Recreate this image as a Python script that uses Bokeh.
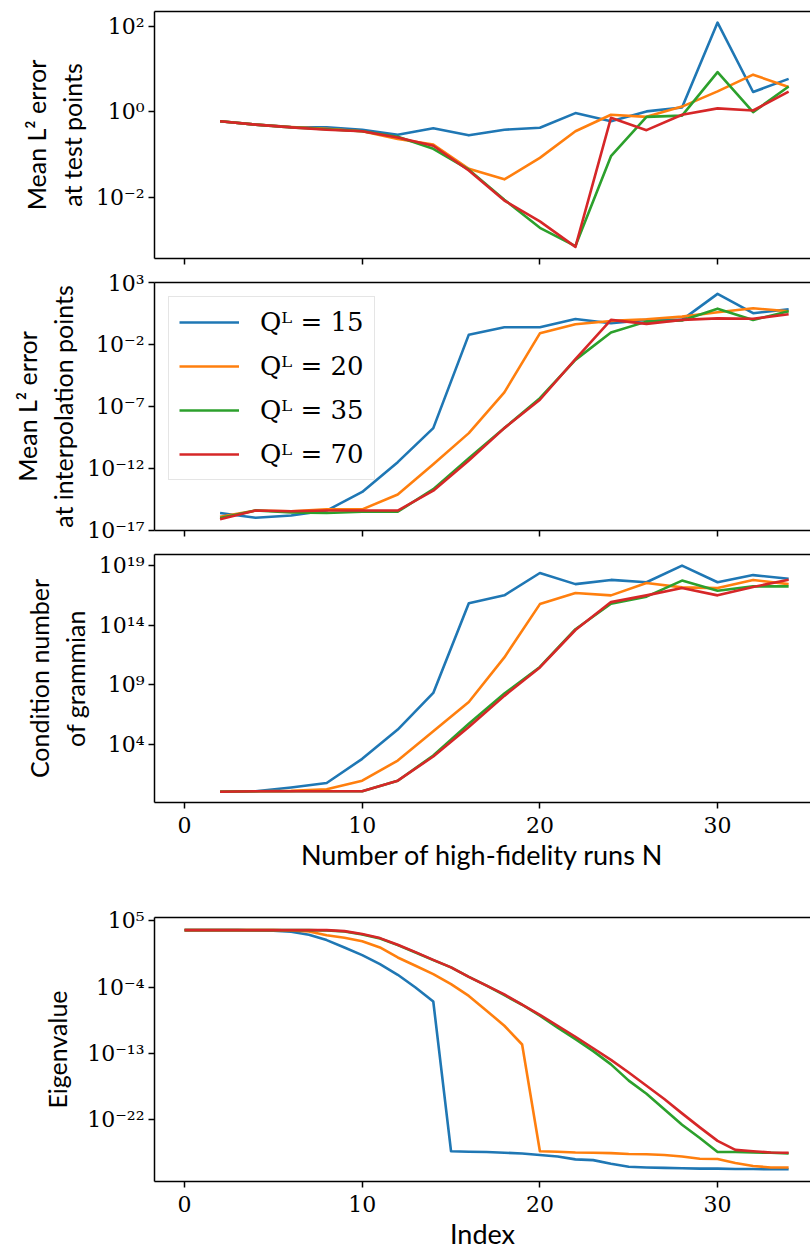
import math
from bokeh.plotting import figure
from bokeh.models import (Range1d, FixedTicker, CustomJSTickFormatter,
                          Legend, LegendItem, LinearAxis)
from bokeh.layouts import column
from bokeh.embed import file_html
from bokeh.resources import INLINE

# ---------------- data ----------------
n_runs = [2, 4, 6, 8, 10, 12, 14, 16, 18, 20, 22, 24, 26, 28, 30, 32, 34]
eig_index = list(range(35))
series_labels = ["Q\u1d38 = 15", "Q\u1d38 = 20", "Q\u1d38 = 35", "Q\u1d38 = 70"]
colors = ["#1f77b4", "#ff7f0e", "#2ca02c", "#d62728"]

test_err_15 = [0.60, 0.50, 0.44, 0.43, 0.38, 0.29, 0.41, 0.28, 0.38, 0.42, 0.93, 0.60, 1.02, 1.26, 123.0, 2.9, 5.9]
test_err_20 = [0.60, 0.50, 0.44, 0.40, 0.35, 0.23, 0.17, 0.046, 0.026, 0.083, 0.35, 0.85, 0.76, 1.32, 3.0, 7.4, 3.8]
test_err_35 = [0.60, 0.50, 0.43, 0.39, 0.35, 0.26, 0.135, 0.044, 0.0087, 0.0019, 0.00071, 0.091, 0.76, 0.81, 8.5, 0.98, 3.9]
test_err_70 = [0.60, 0.50, 0.43, 0.38, 0.35, 0.25, 0.16, 0.042, 0.0083, 0.0027, 0.00068, 0.72, 0.37, 0.85, 1.2, 1.07, 2.95]

interp_err_15 = [2.5e-16, 1.05e-16, 1.6e-16, 4.0e-16, 1.26e-14, 3.2e-12, 1.8e-9, 0.063, 0.25, 0.25, 1.17, 0.52, 0.98, 0.98, 123.0, 3.4, 7.1]
interp_err_20 = [1.26e-16, 4.0e-16, 3.5e-16, 5.0e-16, 5.0e-16, 7.9e-15, 2.2e-12, 7.1e-10, 1.4e-6, 0.081, 0.44, 0.81, 1.1, 1.8, 4.0, 8.5, 4.9]
interp_err_35 = [1.0e-16, 4.0e-16, 2.8e-16, 2.5e-16, 3.2e-16, 3.2e-16, 2.1e-14, 6.8e-12, 1.8e-9, 4.7e-7, 5.8e-4, 0.093, 0.71, 0.87, 7.9, 0.98, 4.9]
interp_err_70 = [7.9e-17, 4.0e-16, 3.5e-16, 4.0e-16, 4.0e-16, 4.0e-16, 1.6e-14, 4.4e-12, 1.8e-9, 3.5e-7, 6.6e-4, 0.98, 0.47, 0.98, 1.3, 1.2, 2.8]

cond_15 = [1.1, 1.2, 2.5, 5.9, 6.3e2, 1.8e5, 2.1e8, 7.1e15, 3.2e16, 2.4e18, 2.8e17, 6.3e17, 4.0e17, 1.0e19, 4.0e17, 1.6e18, 7.9e17]
cond_20 = [1.1, 1.2, 1.3, 1.8, 9.3, 4.5e2, 1.3e5, 3.7e7, 2.0e11, 5.9e15, 5.0e16, 3.2e16, 3.5e17, 1.5e17, 1.3e17, 6.3e17, 2.8e17]
cond_35 = [1.1, 1.2, 1.2, 1.2, 1.2, 9.3, 1.2e3, 5.5e5, 1.9e8, 3.2e10, 4.6e13, 6.3e15, 2.5e16, 5.5e17, 7.9e16, 1.8e17, 1.8e17]
cond_70 = [1.1, 1.2, 1.2, 1.2, 1.2, 9.3, 1.0e3, 2.9e5, 1.2e8, 2.9e10, 4.0e13, 8.7e15, 3.2e16, 1.3e17, 3.2e16, 1.6e17, 6.6e17]

eig_15 = [5.4e3, 5.4e3, 5.4e3, 5.4e3, 4.9e3, 4.4e3, 3.2e3, 1.3e3, 2.4e2, 24.0, 2.2, 0.13, 4.7e-3, 8.9e-5, 1.1e-6,
          5.0e-27, 4.4e-27, 4.0e-27, 3.2e-27, 2.5e-27, 1.6e-27, 1.0e-27, 4.0e-28, 3.2e-28, 1.0e-28, 4.0e-29,
          3.2e-29, 2.8e-29, 2.5e-29, 2.2e-29, 2.2e-29, 2.0e-29, 2.0e-29, 1.8e-29, 1.8e-29]
eig_20 = [5.4e3, 5.4e3, 5.4e3, 5.4e3, 5.4e3, 5.4e3, 4.9e3, 3.5e3, 1.1e3, 5.0e2, 1.7e2, 24.0, 1.05, 0.079, 5.8e-3,
          2.5e-4, 6.3e-6, 6.3e-8, 5.6e-10, 1.6e-12, 5.0e-27, 4.4e-27, 3.5e-27, 3.2e-27, 2.8e-27, 2.2e-27,
          2.0e-27, 1.6e-27, 1.0e-27, 5.0e-28, 4.5e-28, 1.3e-28, 5.0e-29, 3.2e-29, 3.2e-29]
eig_35 = [5.4e3, 5.4e3, 5.4e3, 5.4e3, 5.4e3, 5.4e3, 5.4e3, 5.4e3, 4.9e3, 3.5e3, 1.4e3, 4.0e2, 50.0, 5.0, 0.46,
          0.047, 2.5e-3, 1.6e-4, 7.9e-6, 4.0e-7, 1.3e-8, 3.2e-10, 8.7e-12, 2.0e-13, 3.2e-15, 2.0e-17,
          3.2e-19, 2.5e-21, 2.0e-23, 3.2e-25, 4.0e-27, 4.0e-27, 3.5e-27, 3.2e-27, 2.5e-27]
eig_70 = [5.4e3, 5.4e3, 5.4e3, 5.4e3, 5.4e3, 5.4e3, 5.4e3, 5.4e3, 5.4e3, 4.0e3, 1.6e3, 4.5e2, 55.0, 5.6, 0.5,
          0.047, 2.5e-3, 1.6e-4, 1.0e-5, 4.0e-7, 1.7e-8, 5.6e-10, 1.8e-11, 5.0e-13, 1.3e-14, 2.5e-16,
          4.0e-18, 6.3e-20, 7.1e-22, 8.9e-24, 1.3e-25, 7.9e-27, 5.0e-27, 3.5e-27, 3.2e-27]

x_ticks = [0, 10, 20, 30]
test_ticks = [1e-2, 1e0, 1e2]
interp_ticks = [1e-17, 1e-12, 1e-7, 1e-2, 1e3]
cond_ticks = [1e4, 1e9, 1e14, 1e19]
eig_ticks = [1e-22, 1e-13, 1e-4, 1e5]

# ---------------- styling ----------------
SANS = "Lato"
SERIF = "DejaVu Serif"
TICK_SIZE = "22px"
XLABEL_SIZE = "27px"
YLABEL_SIZE = "25px"
LW = 2.6

xr = Range1d(-1.69, 35.23)

sup_fmt = CustomJSTickFormatter(code="""
const sup = {'0':'\u2070','1':'\u00b9','2':'\u00b2','3':'\u00b3','4':'\u2074','5':'\u2075',
             '6':'\u2076','7':'\u2077','8':'\u2078','9':'\u2079','-':'\u207b'};
const e = Math.round(Math.log10(tick));
return '10' + String(e).split('').map(c => sup[c]).join('');
""")


def make_fig(height, ylo, yhi, yticks, top, bottom, show_xlabels, ylabel, ylabel_standoff=6):
    p = figure(width=810, height=height, x_range=xr,
               y_range=Range1d(10 ** ylo, 10 ** yhi), y_axis_type="log",
               output_backend="svg", toolbar_location=None,
               min_border_left=154, min_border_right=0,
               min_border_top=top, min_border_bottom=bottom)
    p.outline_line_color = None
    p.xgrid.visible = False
    p.ygrid.visible = False
    xa = p.below[0]
    ya = p.left[0]
    for ax in (xa, ya):
        ax.axis_line_width = 1.5
        ax.axis_line_color = "black"
        ax.major_tick_line_width = 1.5
        ax.major_tick_line_color = "black"
        ax.major_tick_out = 6
        ax.major_tick_in = 0
        ax.minor_tick_line_color = None
        ax.major_label_text_font = SERIF
        ax.major_label_text_font_size = TICK_SIZE
        ax.major_label_text_color = "black"
    xa.ticker = FixedTicker(ticks=x_ticks)
    ya.ticker = FixedTicker(ticks=yticks)
    ya.formatter = sup_fmt
    ya.major_label_standoff = 4
    ya.axis_label = ylabel
    ya.axis_label_text_font = SANS
    ya.axis_label_text_font_size = YLABEL_SIZE
    ya.axis_label_text_font_style = "normal"
    ya.axis_label_text_color = "black"
    ya.axis_label_standoff = ylabel_standoff
    xa.major_label_standoff = 8
    if not show_xlabels:
        xa.major_label_overrides = {t: "" for t in x_ticks}
        xa.major_label_text_font_size = "0px"
        xa.major_label_standoff = 0
    top_axis = LinearAxis(axis_line_width=1.5, axis_line_color="black",
                          major_tick_line_color=None, minor_tick_line_color=None,
                          major_label_text_font_size="0px", major_label_standoff=0,
                          ticker=FixedTicker(ticks=[]))
    p.add_layout(top_axis, "above")
    return p, xa


def style_xlabel(xa, text):
    xa.axis_label = text
    xa.axis_label_text_font = SANS
    xa.axis_label_text_font_size = XLABEL_SIZE
    xa.axis_label_text_font_style = "normal"
    xa.axis_label_text_color = "black"
    xa.axis_label_standoff = 2


# panel 1
p1, _ = make_fig(270, -3.44, 2.35, test_ticks, 11, 12, False,
                 "Mean L\u00b2 error\nat test points")
for ys, c in zip([test_err_15, test_err_20, test_err_35, test_err_70], colors):
    p1.line(n_runs, ys, line_color=c, line_width=LW, line_join="round")

# panel 2
p2, _ = make_fig(272, -17.01, 3.01, interp_ticks, 12, 12, False,
                 "Mean L\u00b2 error\nat interpolation points")
rs = []
for ys, c in zip([interp_err_15, interp_err_20, interp_err_35, interp_err_70], colors):
    rs.append(p2.line(n_runs, ys, line_color=c, line_width=LW, line_join="round"))
legend = Legend(items=[LegendItem(label=l, renderers=[r]) for l, r in zip(series_labels, rs)],
                location="top_left", margin=14, padding=10, spacing=14,
                glyph_width=60, glyph_height=30, label_height=30, label_standoff=21,
                label_text_font=SERIF, label_text_font_size="26px",
                label_text_color="black",
                border_line_color="#cccccc", border_line_width=1.5,
                background_fill_color="white", background_fill_alpha=0.85)
p2.add_layout(legend)

# panel 3
p3, xa3 = make_fig(363, -0.86, 19.93, cond_ticks, 12, 103, True,
                   "Condition number\nof grammian")
for ys, c in zip([cond_15, cond_20, cond_35, cond_70], colors):
    p3.line(n_runs, ys, line_color=c, line_width=LW, line_join="round")
style_xlabel(xa3, "Number of high-fidelity runs N")

# panel 4
p4, xa4 = make_fig(347, -30.4, 5.45, eig_ticks, 12, 71, True, "Eigenvalue",
                   ylabel_standoff=12)
for ys, c in zip([eig_15, eig_20, eig_35, eig_70], colors):
    p4.line(eig_index, ys, line_color=c, line_width=LW, line_join="round")
style_xlabel(xa4, "Index")

layout = column(p1, p2, p3, p4, spacing=0)
open("out.html", "w").write(file_html(layout, INLINE))
